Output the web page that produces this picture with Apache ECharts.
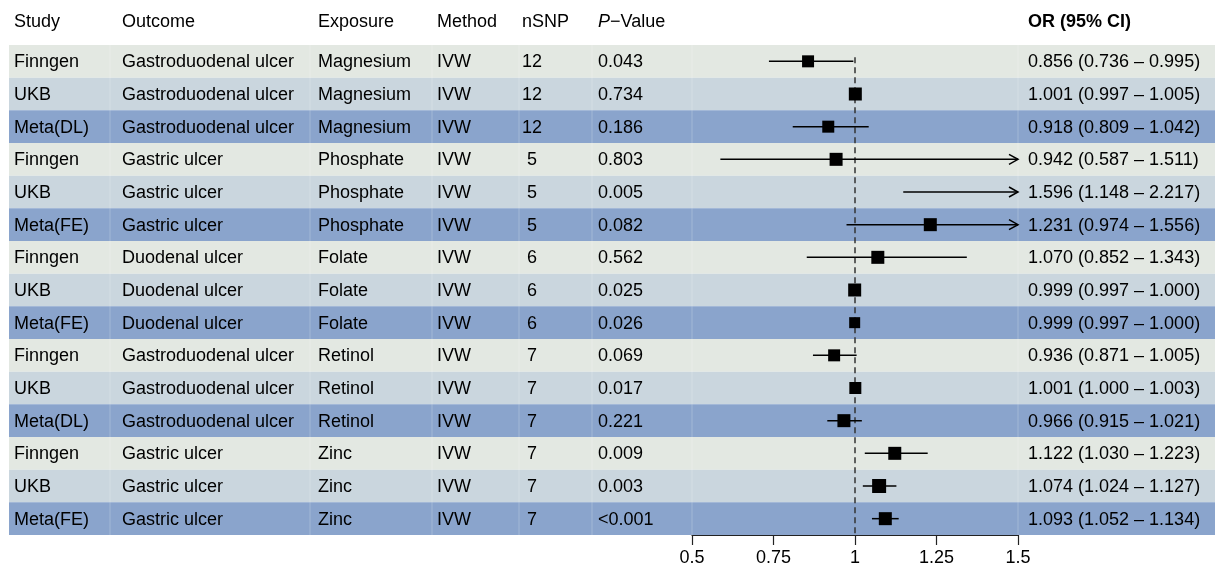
<!DOCTYPE html>
<html lang="en">
<head>
	<meta charset="UTF-8">
	<title>Forest plot</title>
	<style>
		html,body{margin:0;padding:0;background:#fff;}
		#main{width:1215px;height:568px;}
	</style>
</head>
<body>
	<div id="main"></div>
	<script src="https://cdn.jsdelivr.net/npm/echarts@6/dist/echarts.min.js"></script>
	<script>
		// table data
		var study = ['Finngen','UKB','Meta(DL)','Finngen','UKB','Meta(FE)','Finngen','UKB','Meta(FE)','Finngen','UKB','Meta(DL)','Finngen','UKB','Meta(FE)'];
		var outcome = ['Gastroduodenal ulcer','Gastroduodenal ulcer','Gastroduodenal ulcer','Gastric ulcer','Gastric ulcer','Gastric ulcer','Duodenal ulcer','Duodenal ulcer','Duodenal ulcer','Gastroduodenal ulcer','Gastroduodenal ulcer','Gastroduodenal ulcer','Gastric ulcer','Gastric ulcer','Gastric ulcer'];
		var exposure = ['Magnesium','Magnesium','Magnesium','Phosphate','Phosphate','Phosphate','Folate','Folate','Folate','Retinol','Retinol','Retinol','Zinc','Zinc','Zinc'];
		var method = ['IVW','IVW','IVW','IVW','IVW','IVW','IVW','IVW','IVW','IVW','IVW','IVW','IVW','IVW','IVW'];
		var nsnp = [12,12,12,5,5,5,6,6,6,7,7,7,7,7,7];
		var pval = ['0.043','0.734','0.186','0.803','0.005','0.082','0.562','0.025','0.026','0.069','0.017','0.221','0.009','0.003','<0.001'];
		var orv = [0.856,1.001,0.918,0.942,1.596,1.231,1.070,0.999,0.999,0.936,1.001,0.966,1.122,1.074,1.093];
		var lower = [0.736,0.997,0.809,0.587,1.148,0.974,0.852,0.997,0.997,0.871,1.000,0.915,1.030,1.024,1.052];
		var upper = [0.995,1.005,1.042,1.511,2.217,1.556,1.343,1.000,1.000,1.005,1.003,1.021,1.223,1.127,1.134];
		var boxSize = [12,13,12,13,13,13,13,13,11,12,12,13,13,14,13];
		var xTicks = [0.5,1.5,0.25]; // min, max, interval

		var rowColors = ['#e3e8e2','#cad6de','#8aa4cc'];
		var colX = [14,122,318,437,532,598,1028];
		var sepX = [110,310,432,519,592,692,1018];
		var FONT = '"Liberation Sans", Arial, Helvetica, sans-serif';
		var FS = 18;

		var rows = [];
		for (var i = 0; i < study.length; i++) rows.push(i);

		function fmt(v){ return v.toFixed(3); }
		var orText = [];
		for (var i = 0; i < orv.length; i++) {
			orText.push(fmt(orv[i]) + ' (' + fmt(lower[i]) + ' \u2013 ' + fmt(upper[i]) + ')');
		}

		var myChart = echarts.init(document.getElementById('main'));

		var option = {
			animation: false,
			textStyle: {fontFamily: FONT},
			grid: {left: 692, right: 197, top: 45, bottom: 33},
			xAxis: {
				type: 'value', min: xTicks[0], max: xTicks[1], interval: xTicks[2],
				axisLine: {show: true, lineStyle: {color: '#222', width: 1.2}},
				axisTick: {show: true, length: 10, lineStyle: {color: '#222', width: 1.2}},
				axisLabel: {color: '#000', fontSize: FS, fontFamily: FONT, margin: 14},
				splitLine: {show: false}
			},
			yAxis: {
				type: 'category', data: rows, inverse: true, show: false,
				boundaryGap: true
			},
			graphic: [
				{type: 'text', left: colX[0], top: 13, style: {text: 'Study', font: FS + 'px ' + FONT, fill: '#000'}},
				{type: 'text', left: colX[1], top: 13, style: {text: 'Outcome', font: FS + 'px ' + FONT, fill: '#000'}},
				{type: 'text', left: colX[2], top: 13, style: {text: 'Exposure', font: FS + 'px ' + FONT, fill: '#000'}},
				{type: 'text', left: colX[3], top: 13, style: {text: 'Method', font: FS + 'px ' + FONT, fill: '#000'}},
				{type: 'text', left: 522, top: 13, style: {text: 'nSNP', font: FS + 'px ' + FONT, fill: '#000'}},
				{type: 'text', left: colX[5], top: 13, style: {
					text: '{i|P}\u2212Value',
					font: FS + 'px ' + FONT, fill: '#000',
					rich: {i: {fontStyle: 'italic', fontSize: FS, fontFamily: FONT}}
				}},
				{type: 'text', left: colX[6], top: 13, style: {text: 'OR (95% CI)', font: 'bold ' + FS + 'px ' + FONT, fill: '#000'}}
			],
			series: [
				// row backgrounds
				{
					type: 'custom', clip: false, z: 1, silent: true,
					data: rows.map(function(r){ return [1, r]; }),
					renderItem: function(params, api){
						var r = api.value(1);
						var c = api.coord([1, r]);
						var h = api.size([0, 1])[1];
						var w = api.getWidth();
						var top = c[1] - h / 2;
						var kids = [{
							type: 'rect',
							shape: {x: 9, y: top, width: w - 9, height: h},
							style: {fill: rowColors[r % 3]}
						}];
						for (var k = 0; k < sepX.length; k++) {
							kids.push({
								type: 'line',
								shape: {x1: sepX[k], y1: top, x2: sepX[k], y2: top + h},
								style: {stroke: 'rgba(255,255,255,0.22)', lineWidth: 1}
							});
						}
						return {type: 'group', children: kids};
					}
				},
				// table text
				{
					type: 'custom', clip: false, z: 3, silent: true,
					data: rows.map(function(r){ return [1, r]; }),
					renderItem: function(params, api){
						var r = api.value(1);
						var y = api.coord([1, r])[1];
						var vals = [study[r], outcome[r], exposure[r], method[r], String(nsnp[r]), pval[r], orText[r]];
						var kids = [];
						for (var k = 0; k < vals.length; k++) {
							kids.push({
								type: 'text',
								style: {
									x: colX[k], y: y + 1, text: vals[k],
									font: FS + 'px ' + FONT, fill: '#000',
									align: k === 4 ? 'center' : 'left',
									verticalAlign: 'middle'
								}
							});
						}
						return {type: 'group', children: kids};
					}
				},
				// reference line at OR = 1
				{
					type: 'custom', clip: false, z: 4, silent: true,
					data: [[1, 0]],
					renderItem: function(params, api){
						var c = api.coord([api.value(0), api.value(1)]);
						var bottom = params.coordSys.y + params.coordSys.height;
						return {
							type: 'line',
							shape: {x1: c[0], y1: c[1] - 4, x2: c[0], y2: bottom},
							style: {stroke: '#333', lineWidth: 1.5, lineDash: [6, 4]}
						};
					}
				},
				// CI lines + boxes
				{
					type: 'custom', clip: false, z: 5, silent: true,
					data: rows.map(function(r){ return [orv[r], r, lower[r], upper[r], boxSize[r]]; }),
					renderItem: function(params, api){
						var r = api.value(1);
						var est = api.value(0), lo = api.value(2), hi = api.value(3), s = api.value(4);
						var lo2 = Math.max(lo, xTicks[0]);
						var hi2 = Math.min(hi, xTicks[1]);
						var p1 = api.coord([lo2, r]);
						var p2 = api.coord([hi2, r]);
						var kids = [{
							type: 'line',
							shape: {x1: p1[0], y1: p1[1], x2: p2[0], y2: p2[1]},
							style: {stroke: '#000', lineWidth: 1.5}
						}];
						if (hi > xTicks[1]) {
							kids.push({
								type: 'polyline',
								shape: {points: [[p2[0] - 9, p2[1] - 5], [p2[0], p2[1]], [p2[0] - 9, p2[1] + 5]]},
								style: {stroke: '#000', lineWidth: 1.5, fill: 'none'}
							});
						}
						if (lo < xTicks[0]) {
							kids.push({
								type: 'polyline',
								shape: {points: [[p1[0] + 9, p1[1] - 5], [p1[0], p1[1]], [p1[0] + 9, p1[1] + 5]]},
								style: {stroke: '#000', lineWidth: 1.5, fill: 'none'}
							});
						}
						if (est >= xTicks[0] && est <= xTicks[1]) {
							var c = api.coord([est, r]);
							kids.push({
								type: 'rect',
								shape: {x: c[0] - s / 2, y: c[1] - s / 2, width: s, height: s},
								style: {fill: '#000'}
							});
						}
						return {type: 'group', children: kids};
					}
				}
			]
		};
		myChart.setOption(option);
	</script>
</body>
</html>
